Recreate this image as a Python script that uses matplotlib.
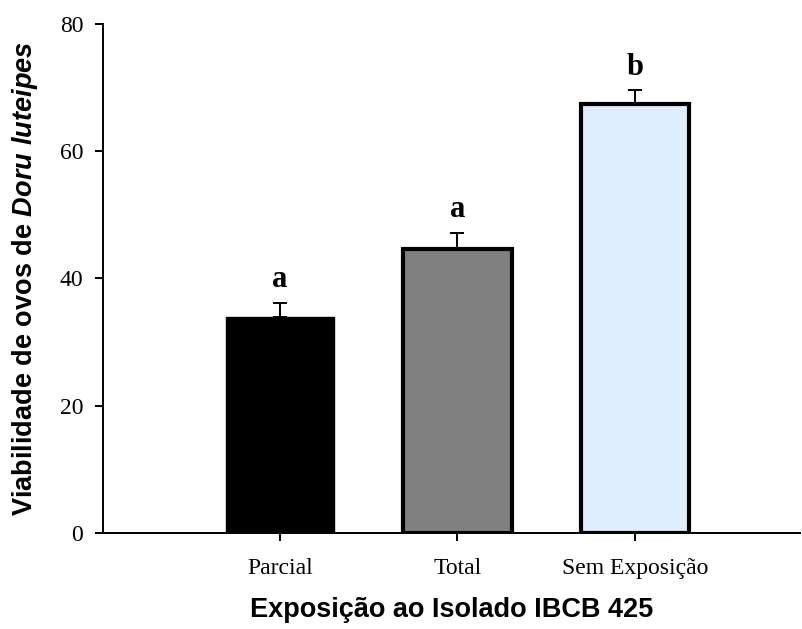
import matplotlib
matplotlib.use("Agg")
import matplotlib.pyplot as plt

categories = ["Parcial", "Total", "Sem Exposição"]
means = [34.0, 44.6, 67.4]
errors = [2.2, 2.6, 2.2]
letters = ["a", "a", "b"]
colors = ["#000000", "#808080", "#dfeefd"]

plt.rcParams["mathtext.fontset"] = "custom"
plt.rcParams["mathtext.it"] = "Liberation Sans:italic:bold"
plt.rcParams["mathtext.rm"] = "Liberation Sans:bold"

fig = plt.figure(figsize=(8.03, 6.29), dpi=100)
ax = fig.add_axes([0.128, 0.1526, 0.868, 0.8094])

x = range(len(categories))
ax.bar(x, means, width=0.61, color=colors, edgecolor="black",
       linewidth=[1, 3, 3], zorder=2)
ax.errorbar(x, means, yerr=[[0] * 3, errors], fmt="none", ecolor="black",
            elinewidth=1.4, capsize=5, capthick=1.4, zorder=3)
for xi, m, e, l in zip(x, means, errors, letters):
    ax.text(xi, m + e + 2.4, l, ha="center", va="baseline",
            family="Liberation Serif", fontweight="bold", fontsize=22)

ax.set_xlim(-1.0, 2.93)
ax.set_ylim(0, 80)
ax.set_yticks([0, 20, 40, 60, 80])
ax.set_xticks(list(x))
ax.set_xticklabels(categories)
for lab in ax.get_xticklabels() + ax.get_yticklabels():
    lab.set_family("Liberation Serif")
    lab.set_fontsize(17)
ax.spines["top"].set_visible(False)
ax.spines["right"].set_visible(False)
ax.spines["left"].set_linewidth(1.4)
ax.spines["bottom"].set_linewidth(1.4)
ax.tick_params(direction="out", length=6, width=1.4)
ax.tick_params(axis="x", pad=12)
ax.tick_params(axis="y", pad=8)

ax.set_xlabel("Exposição ao Isolado IBCB 425", family="Liberation Sans",
              fontweight="bold", fontsize=19.5, labelpad=13)
ax.set_ylabel(r"Viabilidade de ovos de $\it{Doru\ luteipes}$",
              family="Liberation Sans", fontweight="bold", fontsize=19.5,
              labelpad=14)

fig.savefig("out.png", dpi=100)
